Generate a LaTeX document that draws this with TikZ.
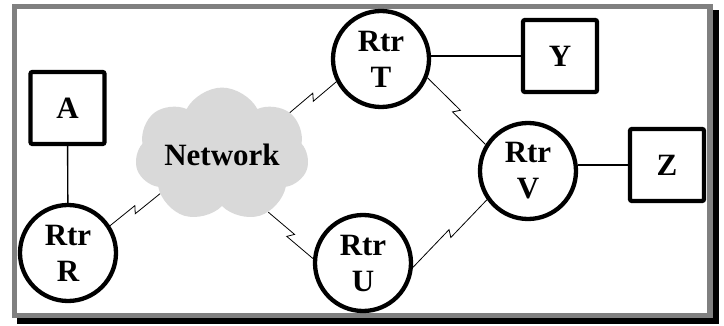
\documentclass[tikz,border=0pt]{standalone}
\usepackage{fontspec}
\setmainfont{Liberation Serif}
\usepackage{xcolor}
\definecolor{framegray}{HTML}{808080}
\definecolor{cloudgray}{HTML}{D9D9D9}
\usepackage{tikz}
\usetikzlibrary{calc,shapes.symbols}

\begin{document}
\begin{tikzpicture}[
  x=1pt, y=-1pt,
  lbl/.style={font=\bfseries\fontsize{31}{36}\selectfont, align=center},
  rtr/.style={lbl, circle, draw, line width=4.3pt, minimum size=96pt, inner sep=0pt},
  host/.style={lbl, draw, line width=4.3pt, rounded corners=2pt,
               minimum width=74pt, minimum height=72pt},
  net/.style={lbl, cloud, cloud puffs=7, cloud puff arc=125, aspect=1.6, fill=cloudgray,
              minimum width=172pt, minimum height=112pt, inner sep=0pt},
  lan/.style={line width=1.4pt},
  zap/.style={line width=0.8pt, to path={
    -- ($(\tikztostart)!.5!(\tikztotarget)!2pt!(\tikztotarget)!3.5pt!90:(\tikztotarget)$)
    -- ($(\tikztostart)!.5!(\tikztotarget)!2pt!180:(\tikztotarget)!3.5pt!-90:(\tikztotarget)$)
    -- (\tikztotarget)}}
]
  \useasboundingbox (0,0) rectangle (724,326);
  % frame with shadow
  \fill[black] (17,10) rectangle (719,324);
  \draw[framegray, line width=5.5pt, fill=white] (14.5,6.5) rectangle (710,315.5);

  \node[net]  (net) at (222,155) {Network};
  \node[host] (a)   at (67.5,108) {A};
  \node[rtr]  (r)   at (68,253)   {Rtr\\R};
  \node[rtr]  (t)   at (381,59)   {Rtr\\T};
  \node[rtr]  (u)   at (363,263)  {Rtr\\U};
  \node[rtr]  (v)   at (528,171)  {Rtr\\V};
  \node[host] (y)   at (560,56)   {Y};
  \node[host] (z)   at (667,165)  {Z};

  \draw[lan] (a) -- (r);
  \draw[lan] (t.east |- y.west) -- (y.west);
  \draw[lan] (v.east |- z.west) -- (z.west);

  \draw[zap] (r.33)    to (net.212);
  \draw[zap] (net.32)  to (t.207);
  \draw[zap] (net.-51) to (u.175);
  \draw[zap] (t.-22)   to (v.148);
  \draw[zap] (u.-5)    to (v.215);
\end{tikzpicture}
\end{document}
